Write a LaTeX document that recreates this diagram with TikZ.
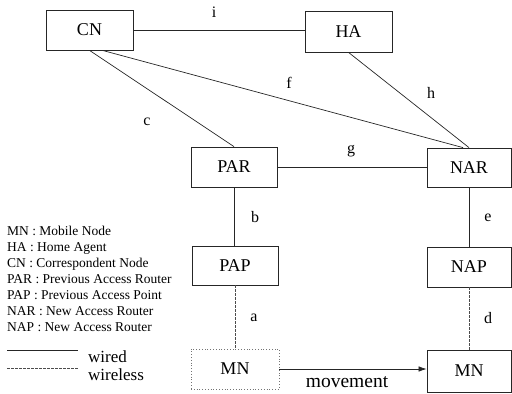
\documentclass[tikz,border=0pt]{standalone}
\usepackage{fontspec}
\setmainfont{Liberation Serif}
\usetikzlibrary{calc,arrows.meta}
\begin{document}
\begin{tikzpicture}[x=1pt,y=-1pt,
  box/.style={draw=black!85,line width=0.8pt,minimum width=#1,inner sep=0pt,font=\fontsize{18}{18}\selectfont},
  wire/.style={draw=black!85,line width=0.7pt},
  wless/.style={draw=black!70,line width=0.7pt,dash pattern=on 2.5pt off 1.5pt},
  lbl/.style={font=\fontsize{16}{16}\selectfont,inner sep=0pt},
  leg/.style={font=\fontsize{13.5}{13.5}\selectfont,anchor=base west,inner sep=0pt}]
\useasboundingbox (0,0) rectangle (512,394);
\node[box=87pt,minimum height=40pt] (CN) at (89.5,30) {CN};
\node[box=87pt,minimum height=41pt] (HA) at (348.5,31.5) {HA};
\node[box=86pt,minimum height=40pt] (PAR) at (234,167) {PAR};
\node[box=84pt,minimum height=39pt] (NAR) at (469,167.5) {NAR};
\node[box=86pt,minimum height=39pt] (PAP) at (235,265.5) {PAP};
\node[box=84pt,minimum height=40pt] (NAP) at (469,267) {NAP};
\node[box=88pt,minimum height=40pt,draw=black!55,dotted] (MN1) at (235,369) {MN};
\node[box=84pt,minimum height=42pt] (MN2) at (469,371) {MN};
% wired links
\draw[wire] (CN.east) -- (CN.east -| HA.west);
\draw[wire] (CN.south) -- (PAR.north);
\draw[wire] ($(CN.south)+(13,0)$) -- ($(NAR.north)+(-6,0)$);
\draw[wire] (HA.south) -- (NAR.north);
\draw[wire] (PAR.east) -- (PAR.east -| NAR.west);
\draw[wire] (PAR.south) -- (PAR.south |- PAP.north);
\draw[wire] (NAR.south) -- (NAR.south |- NAP.north);
% wireless links
\draw[wless] (PAP.south) -- (PAP.south |- MN1.north);
\draw[wless] (NAP.south) -- (NAP.south |- MN2.north);
% movement
\draw[wire,-{Latex[length=8pt,width=5.5pt]}] (MN1.east) -- (MN1.east -| MN2.west);
\node[font=\fontsize{19.5}{19.5}\selectfont,inner sep=0pt] (mv) at (347,382) {movement};
% labels
\node[lbl] (li) at (214,12) {i};
\node[lbl] (lf) at (289,83) {f};
\node[lbl] (lh) at (431,93) {h};
\node[lbl] (lc) at (147,122) {c};
\node[lbl] (lg) at (351,151) {g};
\node[lbl] (lb) at (255,217) {b};
\node[lbl] (le) at (488,218) {e};
\node[lbl] (la) at (254,318) {a};
\node[lbl] (ld) at (488,318) {d};
% legend
\node[leg] (l1) at (7,235) {MN : Mobile Node};
\node[leg] (l2) at (7,251) {HA : Home Agent};
\node[leg] (l3) at (7,267) {CN : Correspondent Node};
\node[leg] (l4) at (7,283) {PAR : Previous Access Router};
\node[leg] (l5) at (7,299) {PAP : Previous Access Point};
\node[leg] (l6) at (7,315) {NAR : New Access Router};
\node[leg] (l7) at (7,331) {NAP : New Access Router};
\coordinate (w1) at (7,350);
\coordinate (w2) at (78,350);
\coordinate (v1) at (7,368);
\coordinate (v2) at (78,368);
\draw[wire] (w1) -- (w2);
\draw[wless] (v1) -- (v2);
\node[leg,font=\fontsize{17}{17}\selectfont] (lw) at (88,362) {wired};
\node[leg,font=\fontsize{17}{17}\selectfont] (lv) at (88,380) {wireless};
\end{tikzpicture}
\end{document}
